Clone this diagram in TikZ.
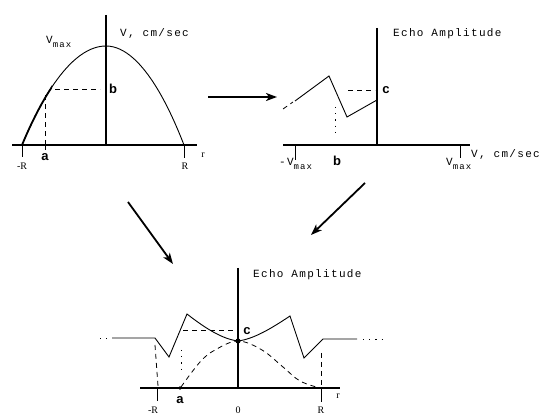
\documentclass[tikz,border=0pt]{standalone}
\usepackage{fontspec}
\usetikzlibrary{arrows.meta}
\newfontfamily\monof[LetterSpace=12]{Liberation Mono}
\newfontfamily\sansb{Liberation Sans}
\newfontfamily\serf{Liberation Serif}
\newcommand{\vmx}{V\raisebox{-0.7ex}{\fontsize{9}{9}\selectfont max}}
\begin{document}
\begin{tikzpicture}[x=1pt,y=-1pt,
  axisline/.style={line width=2.2pt},
  crv/.style={line width=0.9pt},
  dsh/.style={line width=0.8pt, dash pattern=on 5pt off 4pt},
  dotl/.style={line width=0.8pt, dash pattern=on 1.2pt off 5pt},
  bigarrow/.style={line width=1.8pt, -{Stealth[length=11pt,width=8pt,inset=3pt]}},
  lbl/.style={font=\monof\fontsize{11}{11}\selectfont, inner sep=0, anchor=west},
  letter/.style={font=\sansb\bfseries\fontsize{13}{13}\selectfont, inner sep=0},
  rlab/.style={font=\serf\fontsize{10}{10}\selectfont, inner sep=0}]
\useasboundingbox (0,0) rectangle (558,414);
% ---------- top-left plot ----------
\coordinate (Atop) at (106,15);
\coordinate (Abot) at (106,145);
\coordinate (Al) at (12,145);
\coordinate (Ar) at (197,145);
\draw[axisline] (Atop) -- (Abot);
\draw[axisline] (Al) -- (Ar);
\draw[crv] (22,145) parabola bend (106,46) (184,145);
\begin{scope}
  \clip (0,82) rectangle (52,150);
  \draw[line width=1.8pt] (22,145) parabola bend (106,46) (184,145);
\end{scope}
\draw[crv] (22,145) -- (22,157);
\draw[crv] (184,145) -- (184,158);
\draw[crv] (45,140) -- (45,150);
\draw[dsh] (45,145) -- (45,93);
\draw[dsh] (55,89) -- (100,89);
\node[letter] (lb1) at (113,89) {b};
\node[letter] (la1) at (45,157) {a};
\node[rlab] (lmR1) at (22,166) {-R};
\node[rlab] (lR1) at (185,166) {R};
\node[rlab] (lr1) at (203,155) {r};
\node[lbl] (vmax1) at (46,42) {\vmx};
\node[lbl] (vax1) at (120,33) {V, cm/sec};
% ---------- top-right plot ----------
\coordinate (Btop) at (377,28);
\coordinate (Bbot) at (377,145);
\coordinate (Bl) at (283,145);
\coordinate (Br) at (470,145);
\draw[axisline] (Btop) -- (Bbot);
\draw[axisline] (Bl) -- (Br);
\draw[dsh] (283,109) -- (293,102);
\draw[crv] (295,101) -- (329,76) -- (347,117) -- (377,100);
\draw[dsh] (348,90) -- (375,90);
\draw[dotl] (335,107) -- (335,137);
\draw[crv] (295,145) -- (295,160);
\draw[crv] (460,145) -- (460,158);
\node[letter] (lc2) at (386,90) {c};
\node[letter] (lb2) at (337,161) {b};
\node[lbl] (vmax2) at (279,164) {-\vmx};
\node[lbl] (vmax3) at (446,164) {\vmx};
\node[lbl] (vax2) at (471,154) {V, cm/sec};
\node[lbl] (echo2) at (393,34) {Echo Amplitude};
% ---------- arrows ----------
\coordinate (ar1s) at (208,97);
\coordinate (ar1e) at (277,97);
\coordinate (ar2s) at (365,183);
\coordinate (ar2e) at (311,235);
\coordinate (ar3s) at (128,202);
\coordinate (ar3e) at (173,264);
\draw[bigarrow] (ar1s) -- (ar1e);
\draw[bigarrow] (ar2s) -- (ar2e);
\draw[bigarrow] (ar3s) -- (ar3e);
% ---------- bottom plot ----------
\coordinate (Ctop) at (238,268);
\coordinate (Cbot) at (238,388);
\coordinate (Cl) at (140,388);
\coordinate (Cr) at (340,388);
\draw[axisline] (Ctop) -- (Cbot);
\draw[axisline] (Cl) -- (Cr);
\draw[crv] (112,338) -- (155,338) -- (169,357) -- (187,314)
  .. controls (205,328) and (222,339) .. (238,341)
  .. controls (254,339) and (272,328) .. (290,316)
  -- (304,358) -- (323,339) -- (357,339);
\draw[dotl] (100,338) -- (110,338);
\draw[dotl] (363,339) -- (382,339);
\draw[dsh] (183,330) -- (236,330);
\draw[dsh] (155,345) -- (158,386);
\draw[dsh] (321,353) -- (321,386);
\draw[dotl] (181,350) -- (181,374);
\draw[dsh] plot[smooth, tension=0.6] coordinates
  {(181,387) (200,362) (215,350) (238,341) (262,350) (283,367) (300,381) (320,388)};
\draw[crv] (157,388) -- (157,401);
\draw[crv] (321,388) -- (321,402);
\fill (238,341) circle (2.6pt);
\fill (180,388) circle (1.8pt);
\node[letter] (lc3) at (247,331) {c};
\node[letter] (la3) at (180,400) {a};
\node[rlab] (lmR3) at (153,410) {-R};
\node[rlab] (l03) at (238,410) {0};
\node[rlab] (lR3) at (321,410) {R};
\node[rlab] (lr3) at (338,396) {r};
\node[lbl] (echo3) at (253,275) {Echo Amplitude};
\end{tikzpicture}
\end{document}
